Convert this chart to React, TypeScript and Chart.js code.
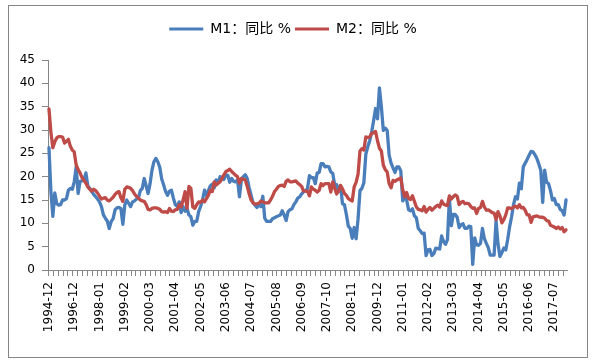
import React, { useEffect, useRef } from 'react';
import { Chart, registerables } from 'chart.js';

Chart.register(...registerables);

// Category labels: 1994-12, then monthly 1995-12 … 2018-01
const categories: string[] = (() => {
  const out = ['1994-12'];
  for (let k = 0; k < 266; k++) {
    const m = 11 + k;
    const y = 1995 + Math.floor(m / 12);
    const mo = (m % 12) + 1;
    out.push(`${y}-${String(mo).padStart(2, '0')}`);
  }
  return out;
})();

const seriesNames = ['M1：同比 %', 'M2：同比 %'];

// M1 YoY %
const m1Values: number[] = [
  26.2, 16.8,
  11.5, 16.5, 14.2, 13.9, 14.0, 15.0, 15.0, 15.3, 17.1, 17.5, 17.3, 18.9,
  22.1, 16.4, 19.0, 19.1, 19.3, 20.8, 18.0, 17.5, 16.8, 16.2, 15.7, 15.2,
  14.6, 13.6, 11.8, 11.1, 10.5, 8.9, 10.4, 11.0, 12.9, 13.3, 13.4, 13.2,
  9.8, 13.9, 15.0, 14.3, 13.6, 14.6, 14.8, 15.2, 15.4, 17.0, 17.5, 19.6,
  18.0, 16.4, 18.5, 21.4, 23.2, 23.9, 23.2, 22.0, 19.5, 18.2, 16.8, 16.0,
  16.9, 17.1, 15.4, 14.0, 13.6, 14.6, 12.3, 13.6, 12.6, 13.2, 11.8, 11.4,
  9.6, 10.4, 10.4, 12.5, 13.6, 15.0, 17.1, 16.0, 17.0, 18.0, 18.4, 17.6,
  19.3, 18.6, 20.0, 19.8, 19.4, 20.4, 20.3, 18.8, 19.6, 19.0, 18.9, 19.3,
  15.7, 19.4, 20.0, 20.4, 19.6, 17.6, 16.0, 14.4, 13.9, 13.4, 14.0, 13.6,
  15.8, 11.1, 10.4, 10.4, 10.4, 11.0, 11.2, 11.4, 11.6, 11.8, 12.7, 11.8,
  10.6, 12.5, 12.9, 13.1, 14.0, 14.6, 15.4, 15.7, 16.3, 16.8, 16.9, 17.5,
  20.2, 19.8, 19.8, 18.5, 20.8, 20.9, 22.8, 22.8, 22.1, 22.2, 22.1, 21.0,
  20.7, 18.2, 18.3, 16.9, 18.1, 14.2, 14.0, 11.9, 9.4, 8.9, 6.8, 9.1,
  6.7, 10.9, 17.0, 17.5, 18.7, 24.8, 26.4, 27.7, 29.5, 32.0, 34.6, 32.4,
  39.0, 35.0, 29.9, 30.4, 29.9, 24.6, 22.9, 21.9, 20.9, 22.1, 22.1, 21.2,
  14.8, 15.6, 15.0, 12.9, 12.7, 13.1, 11.6, 11.2, 8.9, 8.4, 7.8, 7.9,
  3.1, 4.3, 4.4, 3.1, 3.5, 4.7, 4.6, 4.5, 7.3, 6.1, 5.5, 6.5,
  15.3, 9.5, 11.9, 11.9, 11.3, 9.1, 9.7, 9.9, 8.9, 8.9, 9.4, 9.3,
  1.2, 6.9, 5.4, 5.3, 5.7, 8.9, 6.7, 5.7, 4.8, 3.2, 3.2, 3.2,
  10.6, 5.6, 2.9, 3.7, 4.7, 4.3, 6.6, 9.3, 11.4, 14.0, 15.7, 15.2,
  18.6, 17.4, 22.1, 22.9, 23.7, 24.6, 25.4, 25.3, 24.7, 23.9, 22.7, 21.4,
  14.5, 21.4, 18.8, 18.5, 17.0, 15.0, 15.3, 14.0, 14.0, 13.0, 12.7, 11.8,
  15.0,
];

// M2 YoY %
const m2Values: number[] = [
  34.5, 29.5,
  26.2, 27.5, 28.3, 28.6, 28.6, 28.5, 27.2, 27.6, 28.0, 26.5, 25.7, 25.3,
  22.5, 21.5, 20.8, 19.8, 19.2, 18.6, 17.8, 17.3, 16.9, 17.3, 17.0, 16.5,
  15.8, 15.2, 15.4, 15.5, 15.0, 14.8, 15.2, 15.6, 16.2, 16.6, 16.8, 15.5,
  14.7, 17.3, 17.8, 17.7, 17.5, 17.0, 16.3, 15.8, 15.4, 15.0, 14.8, 14.7,
  14.0, 13.0, 12.9, 13.2, 13.3, 13.3, 13.2, 13.0, 12.5, 12.4, 12.5, 12.3,
  13.2, 12.6, 12.5, 12.9, 13.0, 14.0, 13.5, 15.0, 16.8, 13.2, 17.9, 17.5,
  13.5, 13.2, 14.0, 14.6, 14.5, 15.0, 14.6, 15.3, 16.0, 17.1, 16.8, 18.9,
  18.2, 18.6, 18.9, 19.6, 20.4, 21.1, 21.3, 21.6, 21.1, 20.7, 20.3, 20.0,
  18.6, 19.6, 19.4, 19.3, 17.9, 16.3, 15.0, 14.4, 14.1, 14.2, 14.3, 14.8,
  14.6, 14.4, 14.4, 14.4, 15.0, 15.8, 16.8, 17.3, 17.9, 18.1, 18.2, 17.9,
  19.0, 19.3, 18.9, 18.9, 19.0, 19.1, 18.6, 18.3, 17.9, 16.9, 16.9, 16.9,
  15.9, 17.8, 17.3, 17.1, 16.7, 17.1, 18.5, 18.1, 18.5, 18.5, 18.5, 16.7,
  18.9, 17.5, 16.3, 16.9, 18.1, 17.4, 16.4, 16.0, 15.3, 15.0, 14.8, 17.8,
  18.8, 20.5, 25.5, 26.0, 25.7, 28.5, 28.4, 28.5, 29.3, 29.4, 29.7, 27.7,
  26.1, 25.5, 22.5, 21.5, 21.0, 18.5, 17.6, 19.2, 19.0, 19.3, 19.5, 19.7,
  17.2, 15.7, 16.6, 15.3, 15.1, 15.9, 14.7, 13.5, 13.0, 12.9, 12.7, 13.6,
  12.4, 13.0, 13.4, 12.8, 13.2, 13.6, 13.9, 13.5, 14.8, 14.1, 13.9, 13.8,
  15.9, 15.2, 15.7, 16.1, 15.8, 14.0, 14.5, 14.7, 14.2, 14.3, 14.2, 13.6,
  13.2, 13.3, 12.1, 13.2, 13.4, 14.7, 13.5, 12.8, 12.9, 12.6, 12.3, 12.2,
  10.8, 12.5, 11.6, 10.1, 10.8, 11.8, 13.3, 13.3, 13.1, 13.5, 13.7, 13.3,
  14.0, 13.3, 13.4, 12.8, 11.8, 11.8, 10.2, 11.4, 11.5, 11.6, 11.4, 11.3,
  11.3, 11.1, 10.6, 10.5, 9.6, 9.4, 9.2, 8.9, 9.2, 8.8, 9.1, 8.2,
  8.6,
];

const yTicks = { min: 0, max: 45, step: 5 };
const labelEvery = 13;
const minorTickStep = 2.5;

const BLUE = '#4A7EBB';
const RED = '#BE4B48';
const AXIS = '#868686';
const FONT = '"DejaVu Sans", "Noto Sans CJK SC", sans-serif';

const minorTicksPlugin = {
  id: 'minorTicks',
  afterDraw(chart: any) {
    const xs = chart.scales.x;
    const { ctx, chartArea } = chart;
    ctx.save();
    ctx.strokeStyle = AXIS;
    ctx.lineWidth = 1;
    ctx.beginPath();
    for (let v = -0.5; v <= categories.length - 0.5 + 1e-6; v += minorTickStep) {
      const px = Math.round(xs.getPixelForValue(v)) + 0.5;
      ctx.moveTo(px, chartArea.bottom);
      ctx.lineTo(px, chartArea.bottom + 6);
    }
    ctx.stroke();
    ctx.restore();
  },
};

const spacer = (size: number, horizontal: boolean) => ({
  type: 'linear',
  display: true,
  grid: { display: false },
  border: { display: false },
  ticks: { display: false },
  afterFit: (s: any) => {
    if (horizontal) s.height = size;
    else s.width = size;
  },
});

export default function App() {
  const canvasRef = useRef<HTMLCanvasElement | null>(null);

  useEffect(() => {
    if (!canvasRef.current) return;
    const common = {
      borderWidth: 3.3,
      pointRadius: 0,
      tension: 0,
      borderJoinStyle: 'round',
      borderCapStyle: 'round',
      xAxisID: 'x',
      yAxisID: 'y',
    };
    const chart = new Chart(canvasRef.current, {
      type: 'line',
      data: {
        labels: categories,
        datasets: [
          { ...common, label: seriesNames[0], data: m1Values, borderColor: BLUE, backgroundColor: BLUE, order: 1 },
          { ...common, label: seriesNames[1], data: m2Values, borderColor: RED, backgroundColor: RED, order: 0 },
        ],
      },
      options: {
        responsive: false,
        animation: false,
        devicePixelRatio: 1,
        layout: { padding: { top: 12, right: 10, left: 0, bottom: 0 } },
        plugins: {
          tooltip: { enabled: false },
          legend: {
            position: 'top',
            labels: {
              boxWidth: 34,
              boxHeight: 3,
              padding: 4,
              color: '#000',
              font: { family: FONT, size: 14 },
              sort: (a: any, b: any) => a.datasetIndex - b.datasetIndex,
              generateLabels: (c: any) =>
                Chart.defaults.plugins.legend.labels
                  .generateLabels(c)
                  .map((l: any) => ({ ...l, lineWidth: 0 })),
            },
          },
        },
        scales: {
          x: {
            type: 'category',
            position: 'bottom',
            offset: true,
            grid: {
              display: true,
              drawOnChartArea: false,
              drawTicks: true,
              tickLength: 6,
              color: 'rgba(0,0,0,0)',
            },
            border: { display: true, color: AXIS, width: 1 },
            ticks: {
              autoSkip: false,
              minRotation: 90,
              maxRotation: 90,
              padding: 6,
              color: '#000',
              font: { family: FONT, size: 12 },
              callback: (_v: any, i: number) => (i % labelEvery === 0 ? categories[i] : ''),
            },
            afterFit: (s: any) => {
              s.height = 87;
            },
          },
          xTop: { ...spacer(14, true), axis: 'x', position: 'top' },
          y: {
            type: 'linear',
            position: 'left',
            min: yTicks.min,
            max: yTicks.max,
            grid: {
              display: true,
              drawOnChartArea: false,
              drawTicks: true,
              tickLength: 6,
              color: AXIS,
            },
            border: { display: true, color: AXIS, width: 1 },
            ticks: {
              stepSize: yTicks.step,
              padding: 7,
              color: '#000',
              font: { family: FONT, size: 12 },
            },
            afterFit: (s: any) => {
              s.width = 39;
            },
          },
          yRight: { ...spacer(10, false), axis: 'y', position: 'right' },
        },
      },
      plugins: [minorTicksPlugin],
    } as any);
    return () => chart.destroy();
  }, []);

  return (
    <div
      style={{
        position: 'absolute',
        left: 8,
        top: 5,
        width: 580,
        height: 353,
        border: `1px solid ${AXIS}`,
        boxSizing: 'border-box',
        background: '#fff',
      }}
    >
      <canvas ref={canvasRef} width={578} height={351} style={{ display: 'block' }} />
    </div>
  );
}
